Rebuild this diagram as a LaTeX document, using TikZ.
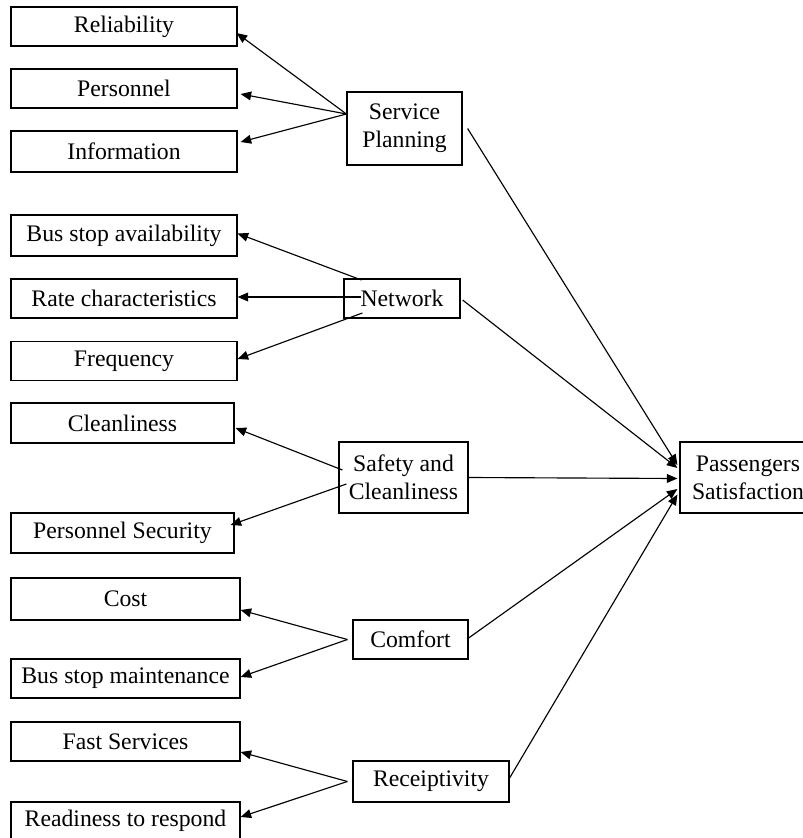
\documentclass[tikz,border=0pt]{standalone}
\usepackage{fontspec}
\setmainfont{Liberation Serif}
\usetikzlibrary{arrows.meta, calc, positioning}

\begin{document}
\begin{tikzpicture}[
  x=0.02cm, y=-0.02cm,
  box/.style={rectangle, draw, line width=0.7pt, inner sep=0pt,
    align=center, font=\fontsize{13.5}{16}\selectfont},
  attr/.style={box, minimum height=0.78cm},
  dim/.style={box},
  farr/.style={-{Triangle[length=6pt,width=5pt]}, line width=0.65pt},
]
\useasboundingbox (0,0) rectangle (802,838);
%% Attribute boxes (left column)
\node[attr, minimum width=4.52cm] (rel)   at (124, 26.5) {Reliability};
\node[attr, minimum width=4.52cm] (pers)  at (124, 88.5) {Personnel};
\node[attr, minimum width=4.52cm, minimum height=0.82cm]
  (info) at (124,151.5) {Information};
\node[attr, minimum width=4.52cm, minimum height=0.82cm]
  (bsa) at (124,235.5) {Bus stop availability};
\node[attr, minimum width=4.52cm] (rate)  at (124,298.5) {Rate characteristics};
\node[attr, minimum width=4.52cm] (freq)  at (124,361)   {Frequency};
\node[attr, minimum width=4.46cm, minimum height=0.80cm]
  (clean) at (122.5,423) {Cleanliness};
\node[attr, minimum width=4.46cm, minimum height=0.80cm]
  (psec) at (122.5,533) {Personnel Security};
\node[attr, minimum width=4.58cm, minimum height=0.84cm]
  (cost) at (125.5,599) {Cost};
\node[attr, minimum width=4.58cm] (bsm)   at (125.5,678.5) {Bus stop maintenance};
\node[attr, minimum width=4.58cm] (fast)  at (125.5,741.5) {Fast Services};
\node[attr, minimum width=4.58cm, minimum height=0.76cm]
  (ready) at (125.5,821) {Readiness to respond};
%% Dimensions (middle column)
\node[dim, minimum width=2.30cm, minimum height=1.46cm]
  (sp) at (404.5,128.5) {Service\\Planning};
\node[dim, minimum width=2.32cm, minimum height=0.78cm]
  (net) at (402,298.5) {Network};
\node[dim, minimum width=2.58cm, minimum height=1.42cm]
  (safe) at (403.5,477.5) {Safety and\\Cleanliness};
\node[dim, minimum width=2.30cm, minimum height=0.78cm]
  (comf) at (410.5,639.5) {Comfort};
\node[dim, minimum width=3.12cm, minimum height=0.82cm]
  (recv) at (431,781.5) {Receiptivity};
%% Outcome
\node[dim, minimum width=2.72cm, minimum height=1.42cm]
  (pass) at (748,477.5) {Passengers\\Satisfaction};
%% Service planning
\draw[farr] ($(sp.west)+(0,-14.5)$) -- ($(rel.east)+(-1,6.5)$);
\draw[farr] ($(sp.west)+(0,-14.5)$) -- ($(pers.east)+(3,5.5)$);
\draw[farr] ($(sp.west)+(0,-14.5)$) -- ($(info.east)+(3,-9.5)$);
%% Network
\draw[farr] ($(net.west)+(18,-18.5)$) -- ($(bsa.east)+(0,-2)$);
\draw[farr] ($(net.west)+(18,-1.5)$)  -- ($(rate.east)+(0,-1.5)$);
\draw[farr] ($(net.west)+(19,14.5)$)  -- ($(freq.east)+(0,-2)$);
%% Safety and cleanliness
\draw[farr] ($(safe.west)+(4,-7.5)$) -- ($(clean.east)+(1,5)$);
\draw[farr] ($(safe.west)+(8,6.5)$)  -- ($(psec.east)+(-4,-8)$);
%% Comfort
\draw[farr] ($(comf.west)+(-5,0)$) -- ($(cost.east)+(0,11)$);
\draw[farr] ($(comf.west)+(-5,0)$) -- ($(bsm.east)+(0,-1.5)$);
%% Receiptivity
\draw[farr] ($(recv.west)+(-5,0)$) -- ($(fast.east)+(0,10.5)$);
\draw[farr] ($(recv.west)+(-5,0)$) -- ($(ready.east)+(0,-4)$);
%% Dimensions to satisfaction
\draw[farr] ($(sp.east)+(5,0)$)     -- ($(pass.west)+(-2,-12.5)$);
\draw[farr] ($(net.east)+(2,1.5)$)  -- ($(pass.west)+(-2,-9.5)$);
\draw[farr] (safe.east)             -- ($(pass.west)+(-2,1)$);
\draw[farr] ($(comf.east)+(0,-1.5)$) -- ($(pass.west)+(-2,11.5)$);
\draw[farr] ($(recv.east)+(0,-3.5)$) -- ($(pass.west)+(-2,17)$);
\end{tikzpicture}
\end{document}
